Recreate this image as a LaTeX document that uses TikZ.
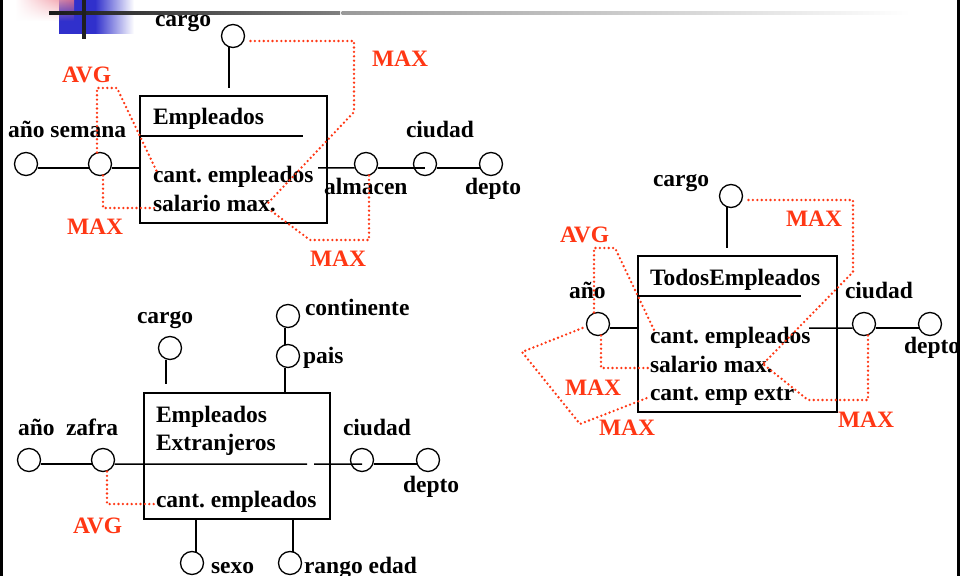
\documentclass[tikz,border=0pt]{standalone}
\usepackage{fontspec}
\setmainfont{Liberation Serif}
\usetikzlibrary{fadings}
\definecolor{aggred}{RGB}{255,55,20}
\definecolor{slideblue}{RGB}{48,48,204}
\definecolor{slidepink}{RGB}{238,120,135}
\newcommand\lblfont{\fontsize{23.5bp}{28bp}\selectfont\bfseries\frenchspacing}
\tikzfading[name=fadedown, top color=transparent!0, bottom color=transparent!100]
\tikzset{
  ent/.style={draw, line width=2.9bp, anchor=north west, inner sep=0pt, outer sep=0pt},
  att/.style={circle, draw, line width=1.3bp, minimum size=23bp, inner sep=0pt, outer sep=0pt},
  lnk/.style={line width=1.5bp},
  agg/.style={draw=aggred, line width=2.6bp, line cap=round, dash pattern=on 0bp off 4.4bp},
  lbl/.style={inner sep=0pt, outer sep=0pt, anchor=base west, font=\lblfont},
  rlbl/.style={lbl, text=aggred},
}
\begin{document}
\begin{tikzpicture}[x=1bp, y=-1bp]
\useasboundingbox (0,0) rectangle (962,576);
\fill[white] (0,0) rectangle (962,576);

% slide ornament
\fill[slideblue] (59,0) rectangle (95,34);
\shade[left color=slideblue, right color=white] (95,0) rectangle (134,34);
\shade[left color=white, right color=slidepink, path fading=fadedown, opacity=0.8] (15,0) rectangle (74,21);
\shade[left color=black!90, right color=black!50] (49,11.5) rectangle (340,15);
\shade[left color=black!40, right color=white] (341.5,11.5) rectangle (910,15);
\fill[black!88] (82,0) rectangle (86,39);

% ---------- Empleados ----------
\node[ent, minimum width=187bp, minimum height=127bp] (emp) at (140,96) {};
\draw[lnk] (140,136) -- (303,136);
\node[lbl] (empT) at (153,125) {Empleados};
\node[lbl] (empA) at (153,183) {cant. empleados};
\node[lbl] (empB) at (153,212) {salario max.};

\node[att] (a1) at (26,164) {};
\node[att] (s1) at (100,164) {};
\node[att] (alm) at (366,164) {};
\node[att] (ciu1) at (425,164) {};
\node[att] (dep1) at (491,164) {};
\node[att] (car1) at (233,36) {};

\coordinate (j1) at (318,168);
\draw[lnk] ([yshift=-4bp]a1.east) -- ([yshift=-4bp]s1.west);
\draw[lnk] ([yshift=-4bp]s1.east) -- ([yshift=-4bp]s1.east -| emp.west);
\draw[lnk] (j1) -- ([yshift=-4bp]alm.west);
\draw[lnk] ([yshift=-4bp]alm.east) -- ([yshift=-4bp]ciu1.center);
\draw[lnk] ([yshift=-4bp]ciu1.east) -- ([yshift=-4bp]dep1.west);
\draw[lnk] ([xshift=-4bp]car1.south) -- ++(0,41);

\node[lbl] (l1a) at (8,138) {año semana};
\node[lbl] (l1b) at (155,27) {cargo};
\node[lbl] (l1c) at (406,138) {ciudad};
\node[lbl] (l1d) at (324,195) {almacen};
\node[lbl] (l1e) at (465,195) {depto};

\node[rlbl] (r1a) at (372,67) {MAX};
\node[rlbl] (r1b) at (62,83) {AVG};
\node[rlbl] (r1c) at (67,235) {MAX};
\node[rlbl] (r1d) at (310,267) {MAX};

\coordinate (m1a) at (268,203);
\coordinate (m1b) at (270,210);
\coordinate (v1) at (157,172);
\coordinate (m1c) at (155,208);
\draw[agg] ([shift={(6,5)}]car1.east) -- (354,41) -- (354,112) -- (m1a);
\draw[agg] ([xshift=3bp]alm.south) -- (369,240) -- (310,240) -- (m1b);
\draw[agg] ([xshift=-3bp]s1.north) -- (97,88) -- (117,88) -- (v1);
\draw[agg] ([xshift=3bp]s1.south) -- (103,208) -- (m1c);

% ---------- Empleados Extranjeros ----------
\node[ent, minimum width=186bp, minimum height=126bp] (ext) at (144,393) {};
\node[lbl] (extT) at (156,422) {Empleados};
\node[lbl] (extU) at (156,450) {Extranjeros};
\node[lbl] (extA) at (156,507) {cant. empleados};

\node[att] (a2) at (29,460) {};
\node[att] (za) at (103,460) {};
\node[att] (ciu2) at (362,460) {};
\node[att] (dep2) at (428,460) {};
\node[att] (car2) at (170,348) {};
\node[att] (cont) at (288,316) {};
\node[att] (pais) at (288,356) {};
\node[att] (sexo) at (192,563) {};
\node[att] (rango) at (290,563) {};

\coordinate (x2a) at (307,464);
\coordinate (x2b) at (314,464);
\draw[lnk] ([yshift=-4bp]a2.east) -- ([yshift=-4bp]za.west);
\draw[lnk] ([yshift=-4bp]za.east) -- (x2a);
\draw[lnk] (x2b) -- ([yshift=-4bp]ciu2.center);
\draw[lnk] ([yshift=-4bp]ciu2.east) -- ([yshift=-4bp]dep2.west);
\draw[lnk] ([xshift=-4bp]car2.south) -- ++(0,24);
\draw[lnk] ([xshift=-3bp]cont.south) -- ([xshift=-3bp]pais.north);
\draw[lnk] ([xshift=-3bp]pais.south) -- ([xshift=-3bp]pais.south |- ext.north);
\draw[lnk] ([xshift=4bp]sexo.north) -- ([xshift=4bp]sexo.north |- ext.south);
\draw[lnk] ([xshift=3bp]rango.north) -- ([xshift=3bp]rango.north |- ext.south);

\node[lbl] (l2a) at (18,435) {año};
\node[lbl] (l2b) at (66,435) {zafra};
\node[lbl] (l2c) at (137,323) {cargo};
\node[lbl] (l2d) at (305,315) {continente};
\node[lbl] (l2e) at (303,363) {pais};
\node[lbl] (l2f) at (343,435) {ciudad};
\node[lbl] (l2g) at (403,492) {depto};
\node[lbl] (l2h) at (211,573) {sexo};
\node[lbl] (l2i) at (304,573) {rango edad};

\node[rlbl] (r2a) at (73,533) {AVG};
\coordinate (v2) at (157,504);
\draw[agg] ([xshift=4bp]za.south) -- (107,504) -- (v2);

% ---------- TodosEmpleados ----------
\node[ent, minimum width=199bp, minimum height=156bp] (tod) at (638,256) {};
\draw[lnk] (638,296) -- (801,296);
\node[lbl] (todT) at (650,286) {TodosEmpleados};
\node[lbl] (todA) at (650,343) {cant. empleados};
\node[lbl] (todB) at (650,372) {salario max.};
\node[lbl] (todC) at (650,400) {cant. emp extr};

\node[att] (car3) at (731,196) {};
\node[att] (a3) at (598,324) {};
\node[att] (ciu3) at (864,324) {};
\node[att] (dep3) at (930,324) {};

\coordinate (j3) at (809,328);
\draw[lnk] ([xshift=-4bp]car3.south) -- ++(0,40);
\draw[lnk] ([yshift=-4bp]a3.east) -- ([yshift=-4bp]a3.east -| tod.west);
\draw[lnk] (j3) -- ([yshift=-4bp]ciu3.west);
\draw[lnk] ([yshift=-4bp]ciu3.east) -- ([yshift=-4bp]dep3.west);

\node[lbl] (l3a) at (653,187) {cargo};
\node[lbl] (l3b) at (569,298) {año};
\node[lbl] (l3c) at (845,298) {ciudad};
\node[lbl] (l3d) at (904,353) {depto};

\node[rlbl] (r3a) at (786,227) {MAX};
\node[rlbl] (r3b) at (838,427) {MAX};
\node[rlbl] (r3c) at (560,243) {AVG};
\node[rlbl] (r3d) at (565,395) {MAX};
\node[rlbl] (r3e) at (599,435) {MAX};

\coordinate (m3a) at (763,364);
\coordinate (v3) at (655,332);
\coordinate (m3c) at (650,368);
\coordinate (m3d) at (647,398);
\draw[agg] ([shift={(6,4)}]car3.east) -- (853,200) -- (853,272) -- (m3a);
\draw[agg] ([xshift=4bp]ciu3.south) -- (868,400) -- (808,400) -- (m3a);
\draw[agg] ([xshift=-4bp]a3.north) -- (594,248) -- (615,248) -- (v3);
\draw[agg] ([xshift=3bp]a3.south) -- (601,368) -- (m3c);
\draw[agg] ([shift={(-4,4)}]a3.west) -- (522,352) -- (580,424) -- (m3d);

% slide frame
\fill[black] (0,0) rectangle (2.7,576);
\fill[black] (956.5,0) rectangle (959.5,576);
\fill[white] (959.5,0) rectangle (962,576);
\end{tikzpicture}
\end{document}
